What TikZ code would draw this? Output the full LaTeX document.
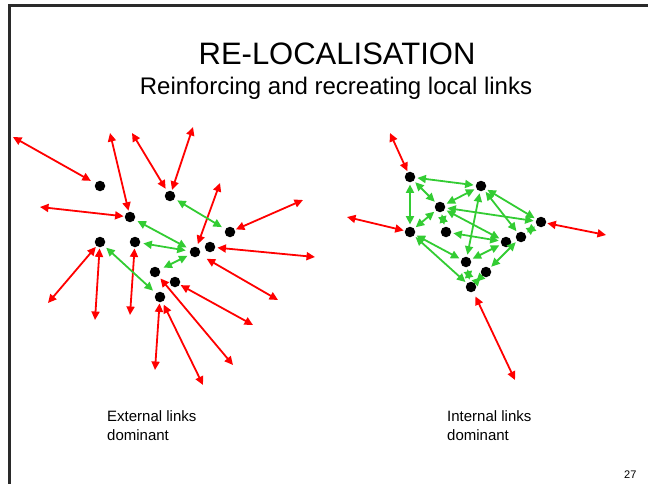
\documentclass[tikz,border=0pt]{standalone}
\usepackage{fontspec}
\setmainfont{Liberation Sans}
\usetikzlibrary{arrows.meta}
\definecolor{lkRed}{HTML}{FF0000}
\definecolor{lkGreen}{HTML}{33CC33}
\definecolor{lkFrame}{HTML}{2A2A2A}
\tikzset{
  hub/.style={circle, fill=black, inner sep=0pt, minimum size=10.5pt},
  tip/.style={{Triangle[length=8.5pt,width=8pt]}-{Triangle[length=8.5pt,width=8pt]}},
  extl/.style={tip, line width=1.8pt, draw=lkRed, shorten >=1pt},
  intl/.style={tip, line width=1.8pt, draw=lkGreen, shorten <=2pt, shorten >=2pt},
  lbl/.style={font=\fontsize{15}{19}\selectfont, align=left, inner sep=0pt, anchor=base west},
}
\begin{document}
\begin{tikzpicture}[x=1pt, y=-1pt]
  \useasboundingbox (0,0) rectangle (648,484);
  \draw[lkFrame, line width=3pt] (9,484) |- (648,5.5);
  \node[font=\fontsize{31}{36}\selectfont, anchor=base] (ttl) at (337,65) {RE-LOCALISATION};
  \node[font=\fontsize{24}{28}\selectfont, anchor=base] (sub) at (336,95) {Reinforcing and recreating local links};
  % external links dominant
  \foreach \n/\x/\y in {e1/100/186, e2/170/196, e3/130/217, e4/230/232, e5/100/242, e6/135/242,
                        e7/195/252, e8/210/247, e9/155/272, e10/175/282, e11/160/297}
    \node[hub] (\n) at (\x,\y) {};
  \foreach \n/\x/\y in {x1/13/137, x2/110/133, x3/40/207, x4/132/133, x5/193/127, x6/220/183,
                        x7/303/200, x8/315/257, x9/278/300, x10/253/325, x11/233/365,
                        x12/203/385, x13/155/370, x14/130/315, x15/95/320, x16/48/303}
    \coordinate (\n) at (\x,\y);
  \draw[extl, shorten >=5pt] (x1) -- (e1);
  \draw[extl] (x2) -- (e3);
  \draw[extl] (x3) -- (e3);
  \draw[extl, shorten >=3pt] (x4) -- (e2);
  \draw[extl] (x5) -- (e2);
  \draw[extl, shorten >=3pt] (x6) -- (e7);
  \draw[extl] (x7) -- (e4);
  \draw[extl, shorten >=2pt] (x8) -- (e8);
  \draw[extl, shorten >=8pt] (x9) -- (e7);
  \draw[extl] (x10) -- (e10);
  \draw[extl, shorten >=3pt] (x11) -- (e9);
  \draw[extl, shorten >=3pt] (x12) -- (e11);
  \draw[extl] (x13) -- (e11);
  \draw[extl] (x14) -- (e6);
  \draw[extl] (x15) -- (e5);
  \draw[extl] (x16) -- (e5);
  \foreach \a/\b in {e2/e4, e3/e7, e6/e7, e7/e9, e5/e11}
    \draw[intl, shorten <=3pt, shorten >=4pt] (\a) -- (\b);
  \node[lbl] (extt) at (107,440) {External links\\dominant};
  % internal links dominant
  \foreach \n/\x/\y in {i1/410/177, i2/481/186, i3/440/207, i4/541/222, i5/410/232, i6/446/232,
                        i7/521/237, i8/506/242, i9/466/262, i10/486/272, i11/471/287}
    \node[hub] (\n) at (\x,\y) {};
  \foreach \n/\x/\y in {y1/390/133, y2/347/217, y3/606/235, y4/515/380}
    \coordinate (\n) at (\x,\y);
  \draw[extl] (y1) -- (i1);
  \draw[extl] (y2) -- (i5);
  \draw[extl] (y3) -- (i4);
  \draw[extl, shorten >=5pt] (y4) -- (i11);
  \foreach \a/\b in {i1/i2, i1/i5, i1/i3, i3/i2, i3/i4, i3/i6, i5/i3, i3/i8, i6/i8, i2/i9,
                     i2/i4, i2/i7, i4/i7, i5/i9, i5/i11, i9/i8, i7/i10, i9/i11, i10/i11}
    \draw[intl] (\a) -- (\b);
  \node[lbl] (intt) at (447,440) {Internal links\\dominant};
  \node[font=\fontsize{11}{13}\selectfont, anchor=base east] (pg) at (640,478) {27};
\end{tikzpicture}
\end{document}
